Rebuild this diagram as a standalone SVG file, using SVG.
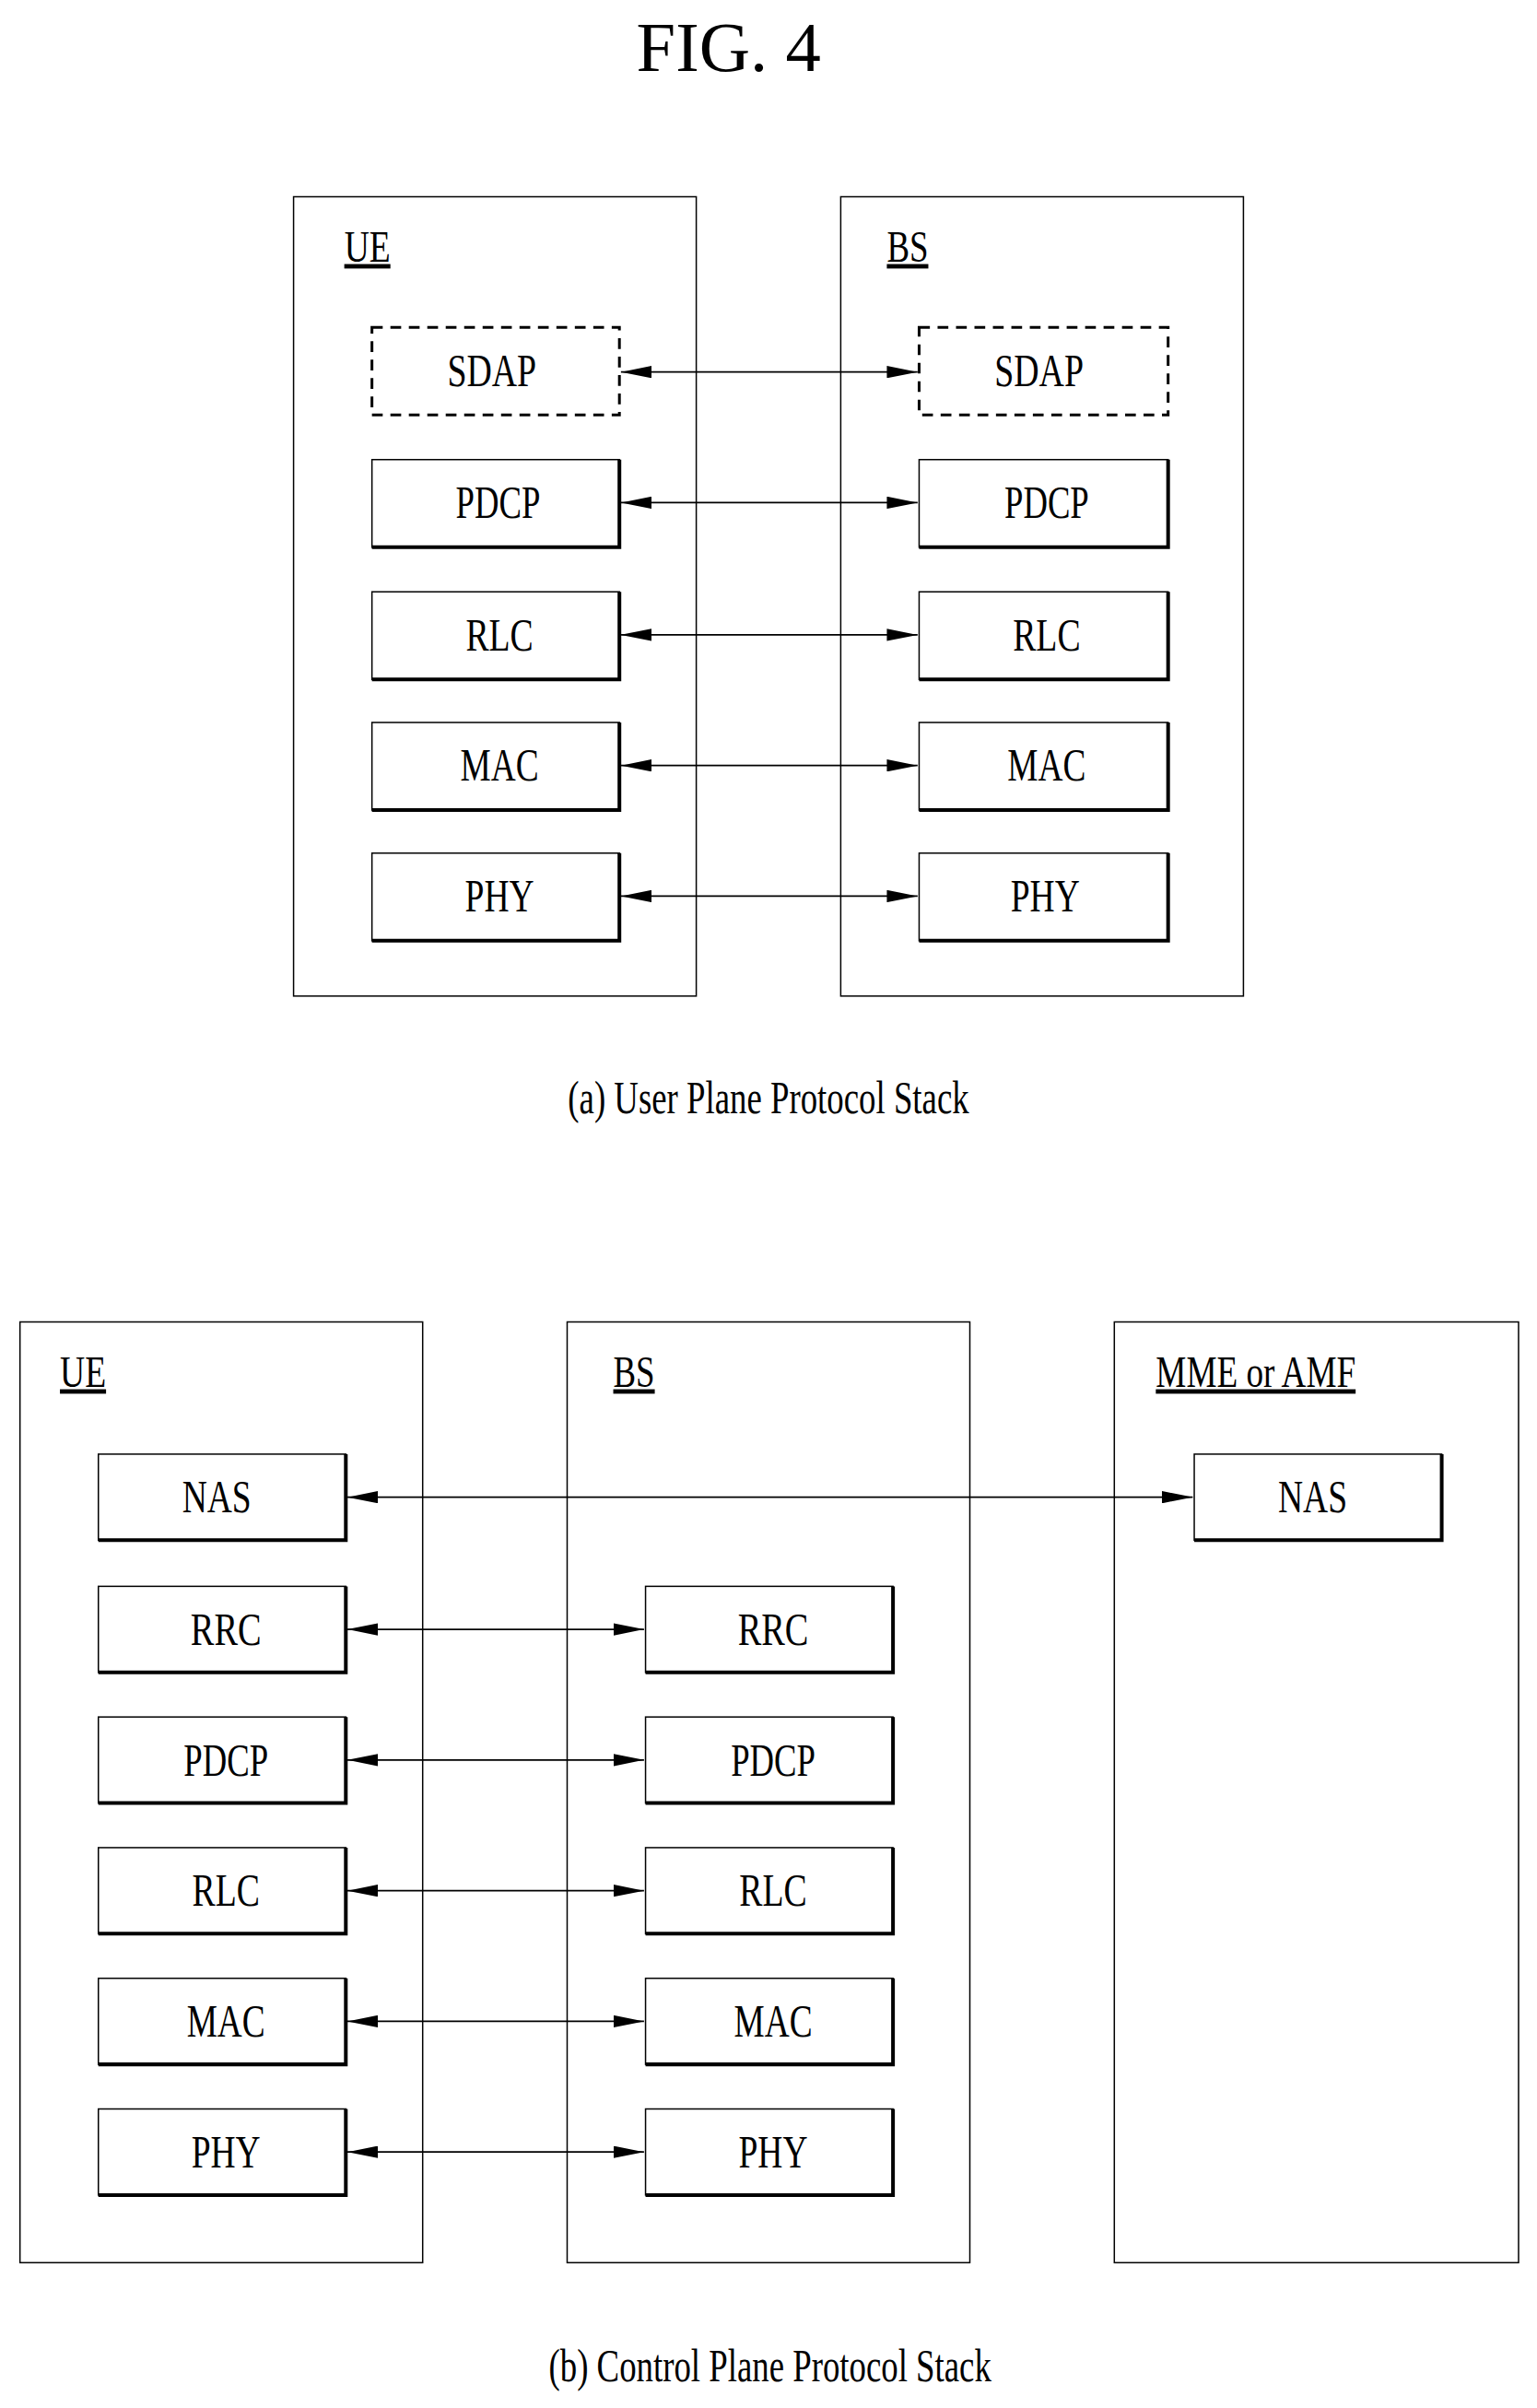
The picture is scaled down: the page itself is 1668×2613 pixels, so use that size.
<svg xmlns="http://www.w3.org/2000/svg" width="1668" height="2613" viewBox="0 0 1668 2613">
<style>
text{font-family:"Liberation Serif","Times New Roman",serif;fill:#000}
.c{stroke:#000;stroke-width:0.9;fill:none}
.l{font-size:30px;text-anchor:middle}
.h{font-size:29px;text-decoration:underline}
.sh{stroke:#000;stroke-width:2.4;fill:none}
.a{stroke:#000;stroke-width:1;fill:none;marker-start:url(#ah);marker-end:url(#ah)}
</style>
<defs>
<marker id="ah" viewBox="0 0 20 8" refX="20" refY="4" markerWidth="20" markerHeight="8" markerUnits="userSpaceOnUse" orient="auto-start-reverse"><path d="M0,0 L20,4 L0,8 z" fill="#000"/></marker>
</defs>
<rect width="1668" height="2613" fill="#fff"/>
<g transform="scale(1.668)">
<text x="474" y="46" font-size="46" text-anchor="middle" textLength="120" lengthAdjust="spacingAndGlyphs">FIG. 4</text>
<g id="ue_a"><rect class="c" x="191" y="128" width="262" height="520"/><text class="h" x="224" y="170" textLength="30" lengthAdjust="spacingAndGlyphs">UE</text></g>
<g id="bs_a"><rect class="c" x="547" y="128" width="262" height="520"/><text class="h" x="577" y="170" textLength="27" lengthAdjust="spacingAndGlyphs">BS</text></g>
<g id="ue_sdap"><rect x="242" y="213" width="161" height="57" fill="none" stroke="#000" stroke-width="1.8" stroke-dasharray="7,5"/><text class="l" x="320" y="251" textLength="58" lengthAdjust="spacingAndGlyphs">SDAP</text></g>
<g id="bs_sdap"><rect x="598" y="213" width="162" height="57" fill="none" stroke="#000" stroke-width="1.8" stroke-dasharray="7,5"/><text class="l" x="676" y="251" textLength="58" lengthAdjust="spacingAndGlyphs">SDAP</text></g>
<g id="ue_pdcp_a"><rect class="c" x="242" y="299" width="161" height="57"/><path class="sh" d="M403,299V356H242"/><text class="l" x="324" y="337" textLength="55" lengthAdjust="spacingAndGlyphs">PDCP</text></g>
<g id="bs_pdcp_a"><rect class="c" x="598" y="299" width="162" height="57"/><path class="sh" d="M760,299V356H598"/><text class="l" x="681" y="337" textLength="55" lengthAdjust="spacingAndGlyphs">PDCP</text></g>
<g id="ue_rlc_a"><rect class="c" x="242" y="385" width="161" height="57"/><path class="sh" d="M403,385V442H242"/><text class="l" x="325" y="423" textLength="44" lengthAdjust="spacingAndGlyphs">RLC</text></g>
<g id="bs_rlc_a"><rect class="c" x="598" y="385" width="162" height="57"/><path class="sh" d="M760,385V442H598"/><text class="l" x="681" y="423" textLength="44" lengthAdjust="spacingAndGlyphs">RLC</text></g>
<g id="ue_mac_a"><rect class="c" x="242" y="470" width="161" height="57"/><path class="sh" d="M403,470V527H242"/><text class="l" x="325" y="508" textLength="51" lengthAdjust="spacingAndGlyphs">MAC</text></g>
<g id="bs_mac_a"><rect class="c" x="598" y="470" width="162" height="57"/><path class="sh" d="M760,470V527H598"/><text class="l" x="681" y="508" textLength="51" lengthAdjust="spacingAndGlyphs">MAC</text></g>
<g id="ue_phy_a"><rect class="c" x="242" y="555" width="161" height="57"/><path class="sh" d="M403,555V612H242"/><text class="l" x="325" y="593" textLength="45" lengthAdjust="spacingAndGlyphs">PHY</text></g>
<g id="bs_phy_a"><rect class="c" x="598" y="555" width="162" height="57"/><path class="sh" d="M760,555V612H598"/><text class="l" x="680" y="593" textLength="45" lengthAdjust="spacingAndGlyphs">PHY</text></g>
<text class="l" x="500" y="724" textLength="261" lengthAdjust="spacingAndGlyphs">(a) User Plane Protocol Stack</text>

<g id="ue_b"><rect class="c" x="13" y="860" width="262" height="612"/><text class="h" x="39" y="902" textLength="30" lengthAdjust="spacingAndGlyphs">UE</text></g>
<g id="bs_b"><rect class="c" x="369" y="860" width="262" height="612"/><text class="h" x="399" y="902" textLength="27" lengthAdjust="spacingAndGlyphs">BS</text></g>
<g id="mme"><rect class="c" x="725" y="860" width="263" height="612"/><text class="h" x="752" y="902" textLength="130" lengthAdjust="spacingAndGlyphs">MME or AMF</text></g>
<g id="ue_nas"><rect class="c" x="64" y="946" width="161" height="56"/><path class="sh" d="M225,946V1002H64"/><text class="l" x="141" y="984" textLength="45" lengthAdjust="spacingAndGlyphs">NAS</text></g>
<g id="mme_nas"><rect class="c" x="777" y="946" width="161" height="56"/><path class="sh" d="M938,946V1002H777"/><text class="l" x="854" y="984" textLength="45" lengthAdjust="spacingAndGlyphs">NAS</text></g>
<g id="ue_rrc"><rect class="c" x="64" y="1032" width="161" height="56"/><path class="sh" d="M225,1032V1088H64"/><text class="l" x="147" y="1070" textLength="46" lengthAdjust="spacingAndGlyphs">RRC</text></g>
<g id="bs_rrc"><rect class="c" x="420" y="1032" width="161" height="56"/><path class="sh" d="M581,1032V1088H420"/><text class="l" x="503" y="1070" textLength="46" lengthAdjust="spacingAndGlyphs">RRC</text></g>
<g id="ue_pdcp_b"><rect class="c" x="64" y="1117" width="161" height="56"/><path class="sh" d="M225,1117V1173H64"/><text class="l" x="147" y="1155" textLength="55" lengthAdjust="spacingAndGlyphs">PDCP</text></g>
<g id="bs_pdcp_b"><rect class="c" x="420" y="1117" width="161" height="56"/><path class="sh" d="M581,1117V1173H420"/><text class="l" x="503" y="1155" textLength="55" lengthAdjust="spacingAndGlyphs">PDCP</text></g>
<g id="ue_rlc_b"><rect class="c" x="64" y="1202" width="161" height="56"/><path class="sh" d="M225,1202V1258H64"/><text class="l" x="147" y="1240" textLength="44" lengthAdjust="spacingAndGlyphs">RLC</text></g>
<g id="bs_rlc_b"><rect class="c" x="420" y="1202" width="161" height="56"/><path class="sh" d="M581,1202V1258H420"/><text class="l" x="503" y="1240" textLength="44" lengthAdjust="spacingAndGlyphs">RLC</text></g>
<g id="ue_mac_b"><rect class="c" x="64" y="1287" width="161" height="56"/><path class="sh" d="M225,1287V1343H64"/><text class="l" x="147" y="1325" textLength="51" lengthAdjust="spacingAndGlyphs">MAC</text></g>
<g id="bs_mac_b"><rect class="c" x="420" y="1287" width="161" height="56"/><path class="sh" d="M581,1287V1343H420"/><text class="l" x="503" y="1325" textLength="51" lengthAdjust="spacingAndGlyphs">MAC</text></g>
<g id="ue_phy_b"><rect class="c" x="64" y="1372" width="161" height="56"/><path class="sh" d="M225,1372V1428H64"/><text class="l" x="147" y="1410" textLength="45" lengthAdjust="spacingAndGlyphs">PHY</text></g>
<g id="bs_phy_b"><rect class="c" x="420" y="1372" width="161" height="56"/><path class="sh" d="M581,1372V1428H420"/><text class="l" x="503" y="1410" textLength="45" lengthAdjust="spacingAndGlyphs">PHY</text></g>
<text class="l" x="501" y="1549" textLength="288" lengthAdjust="spacingAndGlyphs">(b) Control Plane Protocol Stack</text>

<g id="connectors">
<path class="a" d="M404,242H597"/>
<path class="a" d="M404,327H597"/>
<path class="a" d="M404,413H597"/>
<path class="a" d="M404,498H597"/>
<path class="a" d="M404,583H597"/>
<path class="a" d="M226,974H776"/>
<path class="a" d="M226,1060H419"/>
<path class="a" d="M226,1145H419"/>
<path class="a" d="M226,1230H419"/>
<path class="a" d="M226,1315H419"/>
<path class="a" d="M226,1400H419"/>
</g>
</g>
</svg>
